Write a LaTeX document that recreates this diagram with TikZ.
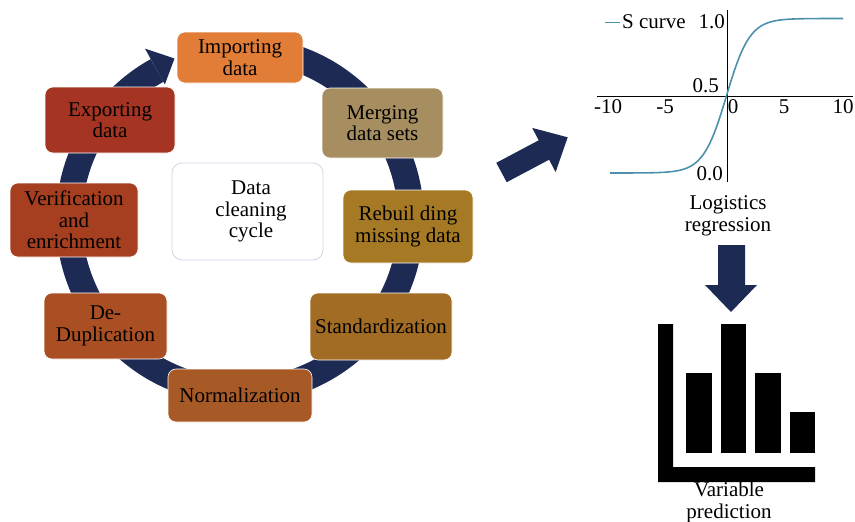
\documentclass[tikz,border=0pt]{standalone}
\usepackage{fontspec}
\setmainfont{Liberation Serif}
\usetikzlibrary{calc}
\definecolor{navy}{RGB}{28,42,84}
\definecolor{cImp}{RGB}{225,125,55}
\definecolor{cMer}{RGB}{166,142,96}
\definecolor{cReb}{RGB}{166,122,36}
\definecolor{cSta}{RGB}{163,108,36}
\definecolor{cNor}{RGB}{168,90,38}
\definecolor{cDed}{RGB}{170,78,35}
\definecolor{cVer}{RGB}{166,62,32}
\definecolor{cExp}{RGB}{165,52,35}
\definecolor{curve}{RGB}{75,145,172}
\definecolor{ctrborder}{RGB}{205,215,228}
\begin{document}
\begin{tikzpicture}[x=1pt,y=-1pt,
  txt/.style={font=\fontsize{21}{21.5}\selectfont, align=center, text=black},
  stepbox/.style={txt, rectangle, rounded corners=8pt, draw=white, line width=0.6pt, inner sep=2pt},
  lbl/.style={font=\fontsize{21}{21.5}\selectfont, inner sep=0pt}
]
\useasboundingbox (0,0) rectangle (855,522);
% ring
\coordinate (c) at (240,220);
\draw[navy, line width=26pt] (c) ++(-80:171) arc[start angle=-80, end angle=241, radius=171];
\fill[navy] ($(c)+(241:196)$) -- ($(c)+(241:173)+(331:21)$) -- ($(c)+(241:155)$) -- cycle;
% boxes
\node[stepbox, fill=cImp, minimum width=126pt, minimum height=51pt] (imp) at (240,57.5) {Importing\\data};
\node[stepbox, fill=cMer, minimum width=121pt, minimum height=70pt] (mer) at (382.5,123) {Merging\\data sets};
\node[stepbox, fill=cReb, minimum width=130pt, minimum height=73pt] (reb) at (408,226.5) {Rebuil ding\\missing data};
\node[stepbox, fill=cSta, minimum width=142pt, minimum height=67pt] (sta) at (381,326.5) {Standardization};
\node[stepbox, fill=cNor, minimum width=144pt, minimum height=53pt] (nor) at (240,395.5) {Normalization};
\node[stepbox, fill=cDed, minimum width=123pt, minimum height=66pt] (ded) at (105.5,326) {De-\\Duplication};
\node[stepbox, fill=cVer, minimum width=128pt, minimum height=74pt] (ver) at (74,220) {Verification\\and\\enrichment};
\node[stepbox, fill=cExp, minimum width=130pt, minimum height=66pt] (exp) at (110,120) {Exporting\\data};
\node[stepbox, fill=white, draw=ctrborder, line width=0.8pt, rounded corners=10pt, minimum width=151pt, minimum height=97pt] (ctr) at (247.5,211.5) {\hspace*{7pt}Data\\\hspace*{7pt}cleaning\\\hspace*{7pt}cycle};
% big diagonal arrow
\fill[navy] (496.3,162.8) -- (538.7,140.3) -- (532.2,127.9) -- (567.7,137.3) -- (555.6,172.1) -- (549.1,159.7) -- (506.7,182.2) -- cycle;
% S-curve plot
\draw[black, line width=0.8pt] (597,96.5) -- (853,96.5);
\draw[black, line width=0.8pt] (727,10) -- (727,182);
\draw[curve, line width=1.6pt] (610,173) -- plot[domain=-9:9, samples=120] ({726.5+11.65*\x},{173-154.5/(1+exp(-\x))}) -- (843,18.5);
\draw[curve, line width=1.4pt] (605,22.5) -- (620,22.5);
\node[lbl, anchor=base west] (leg) at (622,28) {S curve};
\node[lbl, anchor=base east] (y1) at (725,28) {1.0};
\node[lbl, anchor=base east] (y05) at (719,92) {0.5};
\node[lbl, anchor=base east] (y0) at (723,180) {0.0};
\node[lbl, anchor=base] (xm10) at (608,113) {-10};
\node[lbl, anchor=base] (xm5) at (665,113) {-5};
\node[lbl, anchor=base] (x0) at (733,113) {0};
\node[lbl, anchor=base] (x5) at (784,113) {5};
\node[lbl, anchor=base] (x10) at (843,113) {10};
\node[txt, anchor=base, inner sep=0pt] (logit) at (728,231) {Logistics\\regression};
% down arrow
\fill[navy] (718,245) -- (745,245) -- (745,285) -- (757,285) -- (731,312) -- (705,285) -- (718,285) -- cycle;
% bar chart
\fill[black] (658,324) -- (673,324) -- (673,467) -- (815,467) -- (815,482) -- (658,482) -- cycle;
\fill[black] (686,373) rectangle (712,453);
\fill[black] (721,324) rectangle (746,453);
\fill[black] (755,373) rectangle (781,453);
\fill[black] (790,412) rectangle (815,453);
\node[txt, anchor=base, inner sep=0pt] (vp) at (729,518) {Variable\\prediction};
\end{tikzpicture}
\end{document}
